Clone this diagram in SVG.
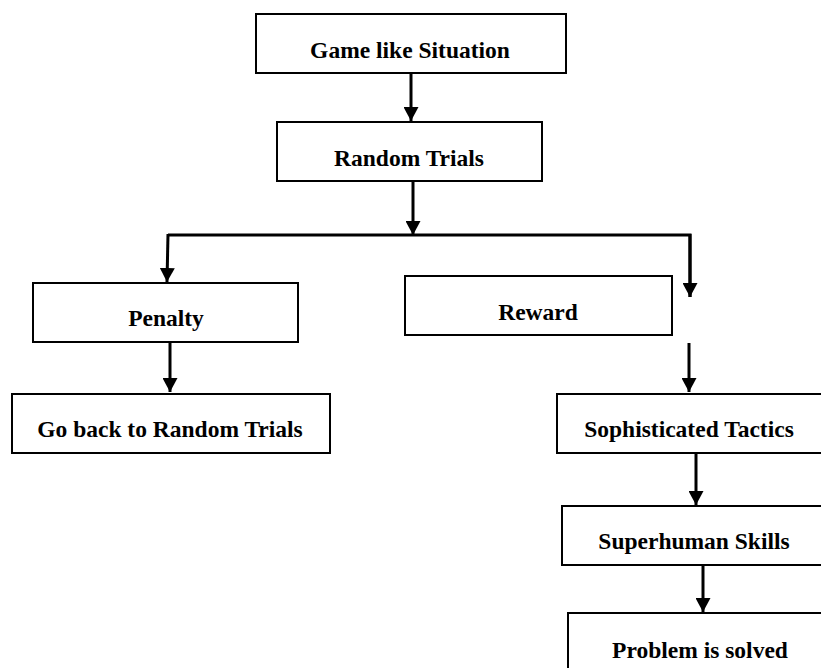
<svg xmlns="http://www.w3.org/2000/svg" width="821" height="668" viewBox="0 0 821 668">
<style>
.box{fill:#fff;stroke:#000;stroke-width:2}
.lbl{font-family:"Liberation Serif","Times New Roman",serif;font-weight:bold;font-size:23.5px;text-anchor:middle;fill:#000}
.ln{stroke:#000;stroke-width:3;fill:none}
</style>
<defs>
<marker id="ah" markerUnits="userSpaceOnUse" markerWidth="16" markerHeight="15" refX="14" refY="7.5" orient="auto">
<path d="M0,0 L14,7.5 L0,15 Z" fill="#000"/>
</marker>
</defs>
<rect width="821" height="668" fill="#fff"/>
<g id="n-game"><rect class="box" x="256" y="14" width="310" height="59"/><text class="lbl" x="410" y="58">Game like Situation</text></g>
<g id="n-random"><rect class="box" x="277" y="122" width="265" height="59"/><text class="lbl" x="409" y="166">Random Trials</text></g>
<g id="n-penalty"><rect class="box" x="33" y="283" width="265" height="59"/><text class="lbl" x="166" y="326">Penalty</text></g>
<g id="n-reward"><rect class="box" x="405" y="276" width="267" height="59"/><text class="lbl" x="538" y="320">Reward</text></g>
<g id="n-goback"><rect class="box" x="12" y="394" width="318" height="59"/><text class="lbl" x="170" y="437">Go back to Random Trials</text></g>
<g id="n-tactics"><rect class="box" x="557" y="394" width="275" height="59"/><text class="lbl" x="689" y="437">Sophisticated Tactics</text></g>
<g id="n-skills"><rect class="box" x="562" y="506" width="270" height="59"/><text class="lbl" x="694" y="549">Superhuman Skills</text></g>
<g id="n-solved"><rect class="box" x="568" y="613" width="264" height="70"/><text class="lbl" x="700" y="658">Problem is solved</text></g>
<g id="connectors">
<line class="ln" x1="411" y1="73" x2="411" y2="121" marker-end="url(#ah)"/>
<line class="ln" x1="413" y1="182" x2="413" y2="235" marker-end="url(#ah)"/>
<polyline class="ln" points="690,297 690,235 168,235"/>
<line class="ln" x1="168" y1="234" x2="167" y2="282" marker-end="url(#ah)"/>
<line class="ln" x1="690" y1="234" x2="690" y2="297" marker-end="url(#ah)"/>
<line class="ln" x1="170" y1="342" x2="170" y2="392" marker-end="url(#ah)"/>
<line class="ln" x1="689" y1="343" x2="689" y2="392" marker-end="url(#ah)"/>
<line class="ln" x1="696" y1="453" x2="696" y2="505" marker-end="url(#ah)"/>
<line class="ln" x1="703" y1="565" x2="703" y2="612" marker-end="url(#ah)"/>
</g>
</svg>
